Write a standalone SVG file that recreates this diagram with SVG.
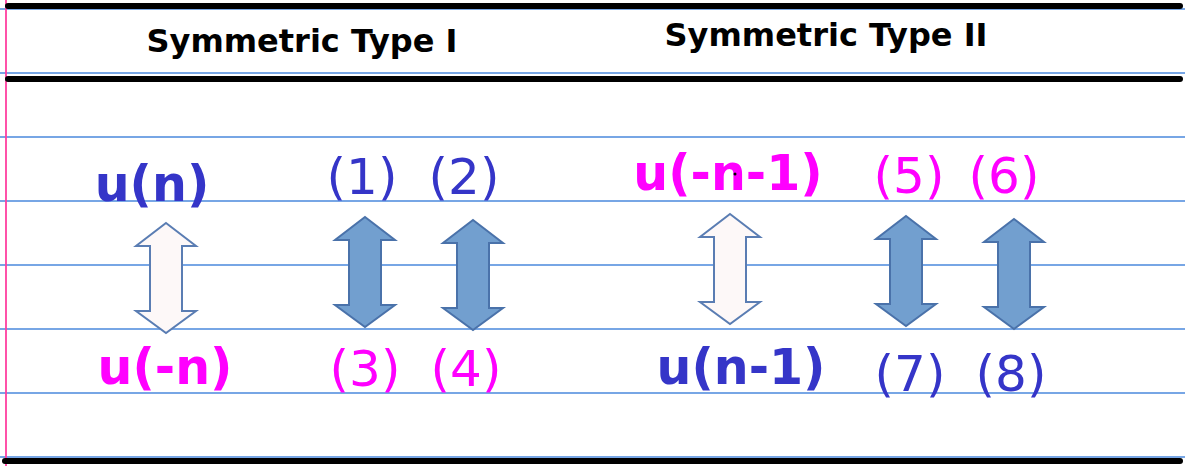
<svg xmlns="http://www.w3.org/2000/svg" width="1185" height="466" viewBox="0 0 1185 466">
<style>
.rule{stroke:#4a88dc;stroke-width:1.3}
.thick{stroke:#000;stroke-width:6;stroke-linecap:round}
.hdr{font-family:"DejaVu Sans",sans-serif;font-weight:bold;font-size:32px;fill:#000;text-anchor:middle}
.lbl{font-family:"DejaVu Sans",sans-serif;font-weight:bold;font-size:49px;text-anchor:middle}
.num{font-family:"DejaVu Sans",sans-serif;font-size:50px;text-anchor:middle}
.blue{fill:#3535c8}
.mag{fill:#ff00ff}
.aw{fill:#fdf8f8;stroke:#5a7db3;stroke-width:2}
.ab{fill:#729fcf;stroke:#4a72aa;stroke-width:2}
</style>
<defs>
<path id="dbl" d="M0,0 L30,23 L16,23 L16,88 L30,88 L0,110 L-30,88 L-16,88 L-16,23 L-30,23 Z"/>
</defs>
<rect width="1185" height="466" fill="#fff"/>
<g id="rules">
<line class="rule" x1="0" y1="9" x2="1185" y2="9"/>
<line class="rule" x1="0" y1="73" x2="1185" y2="73"/>
<line class="rule" x1="0" y1="137" x2="1185" y2="137"/>
<line class="rule" x1="0" y1="201" x2="1185" y2="201"/>
<line class="rule" x1="0" y1="265" x2="1185" y2="265"/>
<line class="rule" x1="0" y1="329" x2="1185" y2="329"/>
<line class="rule" x1="0" y1="393" x2="1185" y2="393"/>
<line class="rule" x1="0" y1="457" x2="1185" y2="457"/>
<line x1="6" y1="0" x2="6" y2="466" stroke="#ff3fa0" stroke-width="1.8"/>
<line class="thick" x1="8" y1="6" x2="1180" y2="6"/>
<line class="thick" x1="8" y1="79" x2="1180" y2="79"/>
<line class="thick" x1="5" y1="461" x2="1180" y2="461"/>
</g>
<g id="headers">
<text class="hdr" x="302" y="52">Symmetric Type I</text>
<text class="hdr" x="826" y="46">Symmetric Type II</text>
</g>
<g id="type1">
<text class="lbl blue" x="152" y="201">u(n)</text>
<text class="lbl mag" x="165" y="384">u(-n)</text>
<text class="num blue" x="362" y="194">(1)</text>
<text class="num blue" x="464" y="194">(2)</text>
<text class="num mag" x="365" y="386">(3)</text>
<text class="num mag" x="466" y="386">(4)</text>
</g>
<g id="type2">
<text class="lbl mag" x="728" y="190">u(-n-1)</text>
<circle cx="735" cy="174" r="1.5" fill="#000"/>
<text class="lbl blue" x="741" y="384">u(n-1)</text>
<text class="num mag" x="909" y="193">(5)</text>
<text class="num mag" x="1004" y="193">(6)</text>
<text class="num blue" x="910" y="391">(7)</text>
<text class="num blue" x="1011" y="391">(8)</text>
</g>
<g id="arrows">
<use href="#dbl" class="aw" transform="translate(166,223)"/>
<use href="#dbl" class="ab" transform="translate(365,217)"/>
<use href="#dbl" class="ab" transform="translate(473,220)"/>
<use href="#dbl" class="aw" transform="translate(730,214)"/>
<use href="#dbl" class="ab" transform="translate(906,216)"/>
<use href="#dbl" class="ab" transform="translate(1014,219)"/>
</g>
</svg>
